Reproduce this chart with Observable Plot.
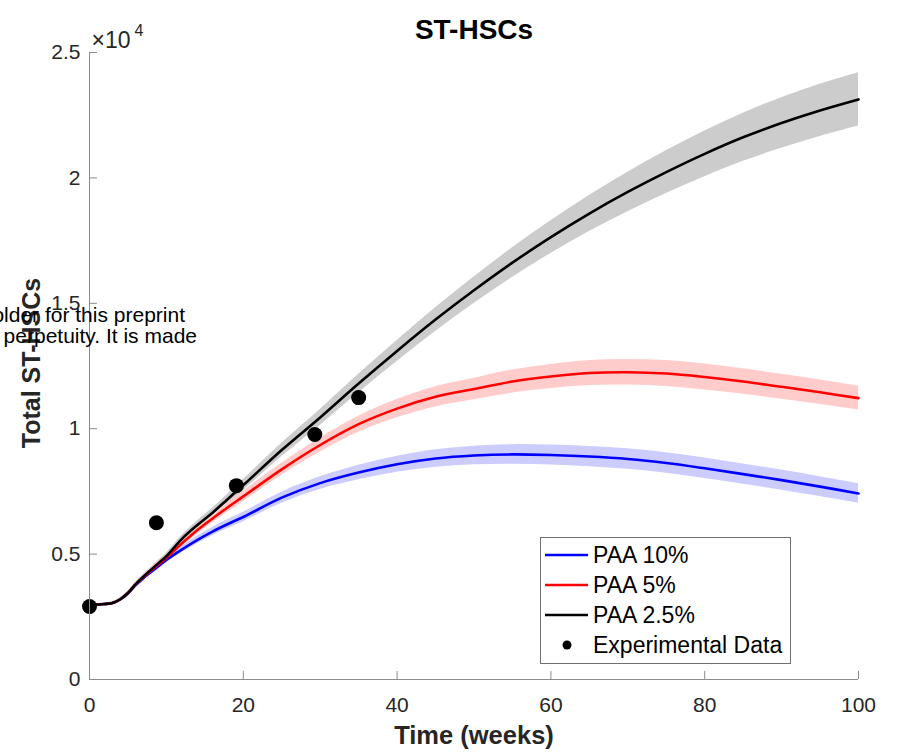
<!DOCTYPE html>
<html>
<head>
<meta charset="utf-8">
<script src="https://cdn.jsdelivr.net/npm/d3@7"></script>
<script src="https://cdn.jsdelivr.net/npm/@observablehq/plot@0.6"></script>
<style>
  html, body { margin: 0; padding: 0; background: #fff; }
  #chart { position: relative; width: 901px; height: 754px; overflow: hidden; }
</style>
</head>
<body>
<div id="chart"></div>
<script>
// ---- data ----
const weeks = [0,1,2,3,4,5,6,7,8,9,10,12,14,16,18,20,25,30,35,40,45,50,55,60,65,70,75,80,85,90,95,100];
const paa25 = [2910,2990,3010,3050,3200,3450,3800,4100,4380,4650,4920,5600,6150,6650,7200,7750,9150,10450,11800,13100,14350,15520,16620,17640,18580,19440,20230,20960,21620,22190,22690,23130];
const paa5  = [2910,2990,3010,3050,3200,3450,3790,4080,4350,4600,4850,5420,5950,6420,6870,7300,8380,9350,10180,10800,11270,11580,11880,12080,12220,12250,12200,12060,11880,11670,11450,11220];
const paa10 = [2910,2990,3010,3050,3190,3430,3760,4040,4290,4530,4770,5180,5560,5900,6200,6480,7250,7830,8250,8580,8810,8930,8975,8950,8890,8790,8630,8420,8190,7950,7690,7420];
const paa25Spread = [20,30,40,50,60,70,80,90,100,110,120,140,160,180,200,220,270,320,370,420,470,530,590,650,720,790,850,910,960,1010,1040,1060];
const paa5Spread  = [20,30,40,50,60,70,80,90,100,110,120,140,160,180,200,210,240,280,320,360,400,430,460,480,500,510,520,520,510,500,490,480];
const paa10Spread = [20,30,40,50,60,70,80,90,100,110,115,130,150,165,180,190,220,250,290,320,350,370,390,400,405,410,410,410,405,400,395,390];
const expWeeks  = [0, 8.7, 19.1, 29.3, 35];
const expValues = [2910, 6250, 7730, 9770, 11240];
const xTicks = [0, 20, 40, 60, 80, 100];
const yTicks = [0, 5000, 10000, 15000, 20000, 25000];
const seriesNames = ["PAA 10%", "PAA 5%", "PAA 2.5%", "Experimental Data"];
const lineColors = ["#0000ff", "#ff0000", "#000000"];
const bandColors = ["#ccccff", "#ffcccc", "#cccccc"];

const FONT = "'Liberation Sans', Arial, Helvetica, sans-serif";

function rows(values, spread) {
  return weeks.map((w, i) => ({week: w, value: values[i], lo: values[i] - spread[i], hi: values[i] + spread[i]}));
}
const r10 = rows(paa10, paa10Spread);
const r5 = rows(paa5, paa5Spread);
const r25 = rows(paa25, paa25Spread);
const expData = expWeeks.map((w, i) => ({week: w, value: expValues[i]}));
const curve = "catmull-rom";

const chart = Plot.plot({
  width: 901,
  height: 754,
  marginLeft: 89,
  marginRight: 43,
  marginTop: 52,
  marginBottom: 75,
  style: {fontFamily: FONT, background: "white", overflow: "visible"},
  x: {domain: [0, 100]},
  y: {domain: [0, 25000]},
  marks: [
    Plot.areaY(r25, {x: "week", y1: "lo", y2: "hi", fill: bandColors[2], curve}),
    Plot.areaY(r5, {x: "week", y1: "lo", y2: "hi", fill: bandColors[1], curve}),
    Plot.areaY(r10, {x: "week", y1: "lo", y2: "hi", fill: bandColors[0], curve}),
    Plot.lineY(r10, {x: "week", y: "value", stroke: lineColors[0], strokeWidth: 2.6, curve}),
    Plot.lineY(r5, {x: "week", y: "value", stroke: lineColors[1], strokeWidth: 2.6, curve}),
    Plot.lineY(r25, {x: "week", y: "value", stroke: lineColors[2], strokeWidth: 2.6, curve}),
    Plot.dot(expData, {x: "week", y: "value", r: 7.5, fill: "black"}),
    Plot.ruleX([0], {stroke: "#8c8c8c"}),
    Plot.ruleY([0], {stroke: "#8c8c8c"}),
    Plot.axisX({ticks: xTicks, tickSize: -8, tickPadding: 26, stroke: "#8c8c8c", fill: "#262626", fontSize: 21, label: null, tickFormat: d => String(d)}),
    Plot.axisY({ticks: yTicks, tickSize: -8, tickPadding: 17, stroke: "#8c8c8c", fill: "#262626", fontSize: 21, label: null, tickFormat: d => String(d / 10000)}),
    Plot.text(["ST-HSCs"], {frameAnchor: "top", textAnchor: "middle", dy: -14, lineAnchor: "bottom", fontSize: 28, fontWeight: "bold", fill: "#000"}),
    Plot.text(["Time (weeks)"], {frameAnchor: "bottom", textAnchor: "middle", dy: 64, lineAnchor: "bottom", fontSize: 25.5, fontWeight: "bold", fill: "#262626"}),
    Plot.text(["Total ST-HSCs"], {frameAnchor: "left", textAnchor: "middle", dx: -58, dy: -3, rotate: -90, fontSize: 25, fontWeight: "bold", fill: "#262626"}),
    Plot.text(["\u00d710"], {frameAnchor: "top-left", dx: 2, dy: -5, textAnchor: "start", lineAnchor: "bottom", fontSize: 23, fill: "#262626"}),
    Plot.text(["4"], {frameAnchor: "top-left", dx: 45, dy: -17, textAnchor: "start", lineAnchor: "bottom", fontSize: 16, fill: "#262626"})
  ]
});
document.getElementById("chart").appendChild(chart);

// legend
const svg = d3.select(chart);
const lg = svg.append("g").attr("font-family", FONT).attr("font-size", 23).attr("text-anchor", "start");
lg.append("rect").attr("x", 540.5).attr("y", 537.5).attr("width", 250).attr("height", 126)
  .attr("fill", "white").attr("stroke", "#707070").attr("stroke-width", 1);
seriesNames.forEach((name, i) => {
  const cy = 555 + i * 30;
  if (i < 3) {
    lg.append("line").attr("x1", 545).attr("x2", 588).attr("y1", cy).attr("y2", cy)
      .attr("stroke", lineColors[i]).attr("stroke-width", 2.6);
  } else {
    lg.append("circle").attr("cx", 567).attr("cy", cy).attr("r", 4.5).attr("fill", "black");
  }
  lg.append("text").attr("x", 593).attr("y", cy).attr("dy", "0.35em").attr("text-anchor", "start").attr("fill", "#000").text(name);
});

// preprint watermark fragments (clipped at the left edge)
const wm = svg.append("g").attr("font-family", FONT).attr("font-size", 21).attr("fill", "#000").attr("text-anchor", "end");
wm.append("text").attr("x", 185).attr("y", 322).text("The copyright holder for this preprint");
wm.append("text").attr("x", 197).attr("y", 343).text("in perpetuity. It is made");
</script>
</body>
</html>
